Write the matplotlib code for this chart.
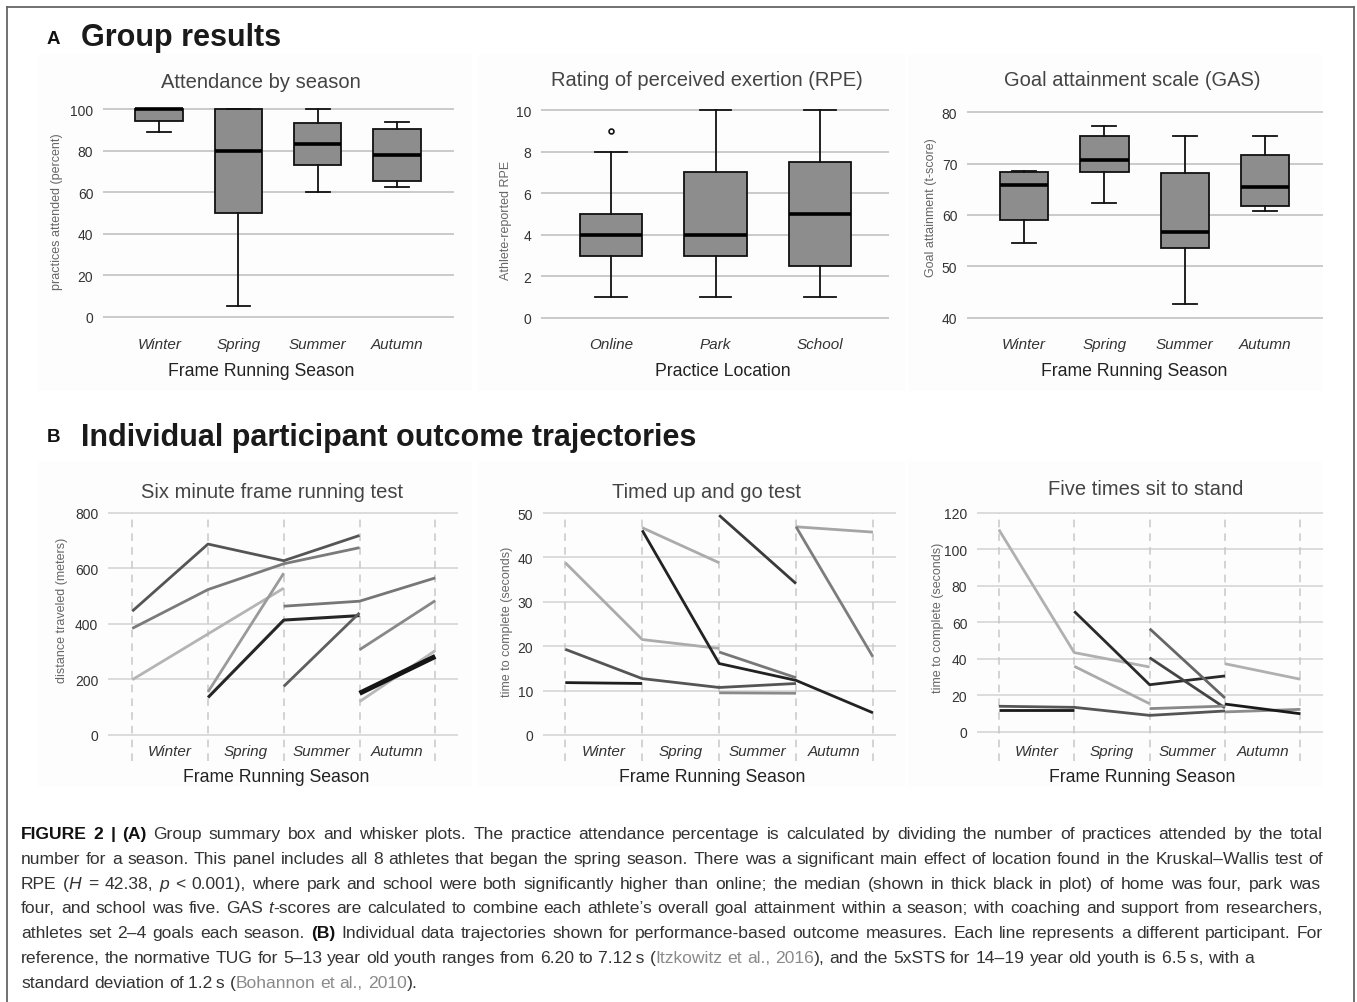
import numpy as np
import matplotlib
matplotlib.use("Agg")
import matplotlib.pyplot as plt
from matplotlib.lines import Line2D
from matplotlib.patches import Rectangle

plt.rcParams['font.family'] = ['Liberation Sans', 'DejaVu Sans']

nan = np.nan

# ---------------- data ----------------
seasons = ["Winter", "Spring", "Summer", "Autumn"]
locations = ["Online", "Park", "School"]

att_whislo = [88.8, 5.0, 60.0, 62.6]
att_q1 = [94.4, 50.0, 73.1, 65.4]
att_med = [100.0, 80.0, 83.2, 78.1]
att_q3 = [100.0, 100.0, 93.3, 90.6]
att_whishi = [100.0, 100.0, 100.0, 93.8]

rpe_whislo = [1, 1, 1]
rpe_q1 = [3, 3, 2.5]
rpe_med = [4, 4, 5]
rpe_q3 = [5, 7, 7.5]
rpe_whishi = [8, 10, 10]
rpe_fliers = [[9], [], []]

gas_whislo = [54.6, 62.4, 42.7, 60.8]
gas_q1 = [59.1, 68.3, 53.6, 61.7]
gas_med = [65.9, 70.7, 56.7, 65.4]
gas_q3 = [68.4, 75.3, 68.1, 71.7]
gas_whishi = [68.6, 77.3, 75.3, 75.3]

n_timepoints = 5

six_min = [
    [446, 688, 628, 719, nan],
    [384, 524, 617, 675, nan],
    [199, 364, 529, nan, nan],
    [nan, 155, 583, nan, nan],
    [nan, 135, 414, 430, nan],
    [nan, nan, 464, 482, 566],
    [nan, nan, 175, 440, nan],
    [nan, nan, nan, 307, 484],
    [nan, nan, nan, 120, 304],
    [nan, nan, nan, 150, 283],
]
six_min_colors = ["#555555", "#7a7a7a", "#b4b4b4", "#9a9a9a", "#262626",
                  "#767676", "#5e5e5e", "#888888", "#b8b8b8", "#151515"]
six_min_widths = [2, 2, 2, 2, 2.2, 2, 2, 2, 2, 3.6]

tug = [
    [38.8, 21.5, 19.5, nan, nan],
    [19.3, 12.7, 10.7, 11.6, nan],
    [11.8, 11.6, nan, nan, nan],
    [nan, 46.7, 38.8, nan, nan],
    [nan, 46.1, 16.1, 12.3, 5.0],
    [nan, nan, 49.5, 34.1, nan],
    [nan, nan, 18.7, 12.9, nan],
    [nan, nan, 9.5, 9.4, nan],
    [nan, nan, nan, 46.9, 45.7],
    [nan, nan, nan, 46.9, 17.6],
]
tug_colors = ["#ababab", "#555555", "#1e1e1e", "#ababab", "#222222",
              "#3a3a3a", "#777777", "#8a8a8a", "#a5a5a5", "#7d7d7d"]

sts = [
    [110.9, 43.5, 35.6, nan, nan],
    [nan, 36.0, 15.5, nan, nan],
    [nan, 66.1, 25.9, 30.7, nan],
    [nan, nan, 56.6, 18.6, nan],
    [nan, nan, 40.7, 13.2, nan],
    [nan, nan, 12.8, 14.2, nan],
    [14.1, 13.5, 9.1, 11.5, nan],
    [11.9, 11.9, nan, nan, nan],
    [nan, nan, nan, 11.0, 12.4],
    [nan, nan, nan, 15.3, 10.0],
    [nan, nan, nan, 37.4, 28.9],
]
sts_colors = ["#b0b0b0", "#aaaaaa", "#2a2a2a", "#666666", "#444444",
              "#888888", "#555555", "#1a1a1a", "#8c8c8c", "#1a1a1a", "#b0b0b0"]

# ---------------- figure ----------------
W, H = 1357, 1003
fig = plt.figure(figsize=(W / 100, H / 100), dpi=100)
fig.patch.set_facecolor("white")


def px_ax(x0, x1, y0, y1):
    return fig.add_axes([x0 / W, 1 - y1 / H, (x1 - x0) / W, (y1 - y0) / H])


def ftext(x, y, s, **kw):
    return fig.text(x / W, 1 - y / H, s, **kw)


# outer border (left, top, right)
for (xa, ya, xb, yb) in [(7, 1003, 7, 8), (7, 8, 1354, 8), (1354, 8, 1354, 1003)]:
    fig.add_artist(Line2D([xa / W, xb / W], [1 - ya / H, 1 - yb / H],
                          transform=fig.transFigure, color="#666666", lw=1.3))

# very faint panel backgrounds
for (x0, x1, y0, y1) in [(38, 472, 55, 392), (478, 905, 55, 392), (908, 1322, 55, 392),
                         (38, 472, 462, 788), (478, 905, 462, 788), (908, 1322, 462, 788)]:
    fig.add_artist(Rectangle((x0 / W, 1 - y1 / H), (x1 - x0) / W, (y1 - y0) / H,
                             transform=fig.transFigure, facecolor="#fdfdfd",
                             edgecolor="none", zorder=-10))

# headers
ftext(47, 40, "A", fontsize=13.5, fontweight="bold", color="#111111", va="center")
ftext(81, 38, "Group results", fontsize=22, fontweight="bold", color="#1a1a1a", va="center")
ftext(47, 438, "B", fontsize=13.5, fontweight="bold", color="#111111", va="center")
ftext(81, 438, "Individual participant outcome trajectories", fontsize=22,
      fontweight="bold", color="#1a1a1a", va="center")

TITLE_KW = dict(fontsize=14.5, color="#444444", ha="center", va="center")
XLAB_KW = dict(fontsize=12.7, color="#222222", ha="center", va="center")
YLAB_KW = dict(fontsize=9, color="#666666", ha="center", va="center", rotation=90)
CAT_KW = dict(fontsize=11, color="#333333", ha="center", va="center", style="italic")


def style_axis(ax, yticks):
    for sp in ax.spines.values():
        sp.set_visible(False)
    ax.set_facecolor("none")
    ax.set_yticks(yticks)
    ax.set_yticklabels([str(v) for v in yticks])
    ax.set_xticks([])
    ax.tick_params(axis="y", length=0, pad=7, labelsize=10, labelcolor="#333333")


def box_panel(rect, ylim, xlim, yticks, cats, whislo, q1, med, q3, whishi, fliers=None):
    x0, x1, y0, y1 = rect
    ax = px_ax(x0, x1, y0, y1)
    ax.set_ylim(*ylim)
    ax.set_xlim(*xlim)
    style_axis(ax, yticks)
    for v in yticks:
        ax.axhline(v, color="#bdbdbd", lw=1.1, zorder=0)
    stats = []
    for i in range(len(cats)):
        stats.append(dict(med=med[i], q1=q1[i], q3=q3[i], whislo=whislo[i],
                          whishi=whishi[i], fliers=(fliers[i] if fliers else []),
                          label=cats[i]))
    ax.bxp(stats, positions=range(len(cats)), widths=0.6, capwidths=0.3,
           patch_artist=True, showfliers=True,
           boxprops=dict(facecolor="#8d8d8d", edgecolor="#111111", linewidth=1.3),
           medianprops=dict(color="#000000", linewidth=2.6),
           whiskerprops=dict(color="#111111", linewidth=1.3),
           capprops=dict(color="#111111", linewidth=1.3),
           flierprops=dict(marker="o", markersize=3.5, markerfacecolor="white",
                           markeredgecolor="#111111", markeredgewidth=1.2))
    ax.set_xticks([])
    ya = (y1 - 345) / (y1 - y0)
    for i, c in enumerate(cats):
        ax.text(i, ya, c, transform=ax.get_xaxis_transform(), clip_on=False, **CAT_KW)
    return ax


def line_panel(rect, ylim, xlim, yticks, series, colors, widths=None):
    x0, x1, y0, y1 = rect
    ax = px_ax(x0, x1, y0, y1)
    ax.set_ylim(*ylim)
    ax.set_xlim(*xlim)
    style_axis(ax, yticks)
    for v in yticks:
        ax.axhline(v, color="#d2d2d2", lw=1.1, zorder=0)
    ax.vlines(range(n_timepoints), ylim[0], yticks[-1], colors="#c8c8c8",
              linestyles=(0, (5, 4)), lw=1.1, zorder=0)
    xs = np.arange(n_timepoints)
    for k, s in enumerate(series):
        lw = widths[k] if widths else 2.0
        ax.plot(xs, s, color=colors[k], lw=lw, solid_capstyle="butt", zorder=2,
                clip_on=False)
    ya = (y1 - 752) / (y1 - y0)
    for i, c in enumerate(seasons):
        ax.text(i + 0.5, ya, c, transform=ax.get_xaxis_transform(), **CAT_KW)
    return ax


# ---- panel A ----
box_panel((103, 454, 106, 322), (-2, 102), (-0.71, 3.72), [0, 20, 40, 60, 80, 100],
          seasons, att_whislo, att_q1, att_med, att_q3, att_whishi)
ftext(261, 82, "Attendance by season", **TITLE_KW)
ftext(261, 372, "Frame Running Season", **XLAB_KW)
ftext(57, 212, "practices attended (percent)", **YLAB_KW)

box_panel((541, 889, 107, 323), (-0.2, 10.2), (-0.67, 2.66), [0, 2, 4, 6, 8, 10],
          locations, rpe_whislo, rpe_q1, rpe_med, rpe_q3, rpe_whishi, rpe_fliers)
ftext(707, 81, "Rating of perceived exertion (RPE)", **TITLE_KW)
ftext(723, 371, "Practice Location", **XLAB_KW)
ftext(506, 220, "Athlete-reported RPE", **YLAB_KW)

box_panel((967, 1323, 109, 323), (39.22, 80.78), (-0.71, 3.72), [40, 50, 60, 70, 80],
          seasons, gas_whislo, gas_q1, gas_med, gas_q3, gas_whishi)
ftext(1132, 81, "Goal attainment scale (GAS)", **TITLE_KW)
ftext(1134, 371, "Frame Running Season", **XLAB_KW)
ftext(931, 208, "Goal attainment (t-score)", **YLAB_KW)

# ---- panel B ----
line_panel((108, 458, 512.6, 762), (-94, 805), (-0.32, 4.3), [0, 200, 400, 600, 800],
           six_min, six_min_colors, six_min_widths)
ftext(272, 493, "Six minute frame running test", **TITLE_KW)
ftext(276, 778, "Frame Running Season", **XLAB_KW)
ftext(62, 610, "distance traveled (meters)", **YLAB_KW)

line_panel((543, 896, 512.7, 762), (-5.86, 50.3), (-0.29, 4.3), [0, 10, 20, 30, 40, 50],
           tug, tug_colors)
ftext(706, 493, "Timed up and go test", **TITLE_KW)
ftext(712, 778, "Frame Running Season", **XLAB_KW)
ftext(507, 622, "time to complete (seconds)", **YLAB_KW)

line_panel((977, 1323, 512.7, 762), (-15.9, 120.7), (-0.29, 4.3), [0, 20, 40, 60, 80, 100, 120],
           sts, sts_colors)
ftext(1146, 490, "Five times sit to stand", **TITLE_KW)
ftext(1142, 778, "Frame Running Season", **XLAB_KW)
ftext(938, 618, "time to complete (seconds)", **YLAB_KW)

# ---------------- caption ----------------
N = dict(color="#333333")
B = dict(color="#111111", fontweight="bold")
I = dict(color="#333333", style="italic")
G = dict(color="#8a8a8a")

caption_lines = [
    [("FIGURE 2 | (A)", B), (" Group summary box and whisker plots. The practice attendance percentage is calculated by dividing the number of practices attended by the total", N)],
    [("number for a season. This panel includes all 8 athletes that began the spring season. There was a significant main effect of location found in the Kruskal\u2013Wallis test of", N)],
    [("RPE (", N), ("H", I), (" = 42.38, ", N), ("p", I), (" < 0.001), where park and school were both significantly higher than online; the median (shown in thick black in plot) of home was four, park was", N)],
    [("four, and school was five. GAS ", N), ("t", I), ("-scores are calculated to combine each athlete\u2019s overall goal attainment within a season; with coaching and support from researchers,", N)],
    [("athletes set 2\u20134 goals each season. ", N), ("(B)", B), (" Individual data trajectories shown for performance-based outcome measures. Each line represents a different participant. For", N)],
    [("reference, the normative TUG for 5\u201313 year old youth ranges from 6.20 to 7.12\u2009s (", N), ("Itzkowitz et al., 2016", G), ("), and the 5xSTS for 14\u201319 year old youth is 6.5\u2009s, with a", N)],
    [("standard deviation of 1.2\u2009s (", N), ("Bohannon et al., 2010", G), (").", N)],
]
caption_y = [835, 860, 884.5, 909, 934, 959, 984]
caption_right = [1323, 1323, 1320, 1323, 1323, None, None]   # justified lines
caption_left = 21

renderer = fig.canvas.get_renderer()
_cache = {}


def measure(s, props, size):
    key = (s, tuple(sorted(props.items())), size)
    if key not in _cache:
        t = fig.text(0, 0, s, fontsize=size, **props)
        _cache[key] = t.get_window_extent(renderer).width
        t.remove()
    return _cache[key]


def space_w(props, size):
    return measure("a a", props, size) - measure("aa", props, size)


def tokens_of(segs):
    # list of (word, props, space_before)
    toks = []
    pending_space = False
    for s, p in segs:
        parts = s.split(" ")
        for j, w in enumerate(parts):
            if j > 0:
                pending_space = True
            if w == "":
                continue
            toks.append((w, p, pending_space and len(toks) > 0))
            pending_space = False
    return toks


cap_size = 12.6
for segs, yy, xr in zip(caption_lines, caption_y, caption_right):
    toks = tokens_of(segs)
    widths = [measure(w, p, cap_size) for w, p, _ in toks]
    nsp = sum(1 for t in toks if t[2])
    sp = space_w(N, cap_size)
    natural = sum(widths) + nsp * sp
    if xr is not None and nsp > 0:
        sp = sp + ((xr - caption_left) - natural) / nsp
    x = caption_left
    for (w, p, sb), wd in zip(toks, widths):
        if sb:
            x += sp
        ftext(x, yy, w, fontsize=cap_size, va="center", ha="left", **p)
        x += wd

fig.savefig("out.png", dpi=100, facecolor="white")
